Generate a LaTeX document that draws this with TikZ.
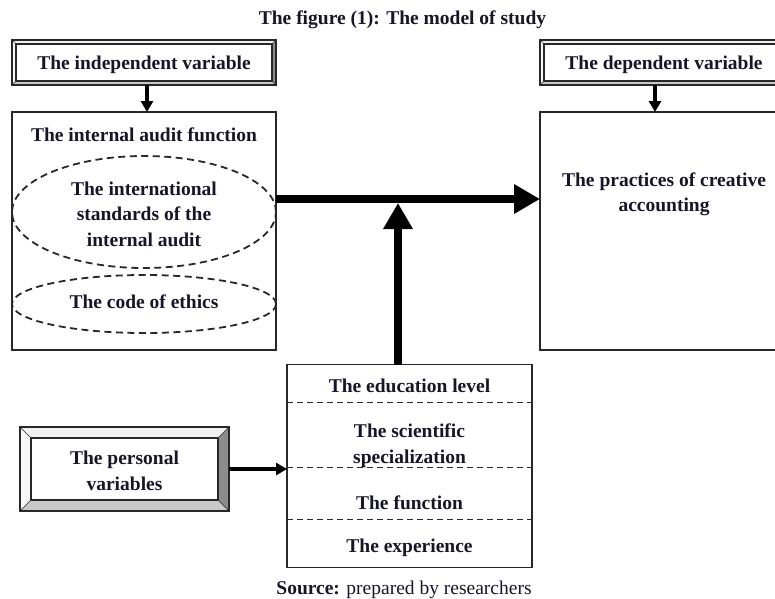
\documentclass[tikz,border=0pt]{standalone}
\usepackage{fontspec}
\setmainfont{Liberation Serif}
\usetikzlibrary{arrows.meta,shapes.geometric}

\definecolor{ink}{RGB}{22,22,40}
\definecolor{frame}{RGB}{40,40,40}
\definecolor{bvtop}{RGB}{240,240,240}
\definecolor{bvleft}{RGB}{248,248,248}
\definecolor{bvright}{RGB}{140,140,140}
\definecolor{bvbottom}{RGB}{200,200,200}

% raised (bevelled) frame around a named node; #2 = bevel depth
\newcommand\bevelframe[2]{%
  \fill[bvtop] (#1.north west) -- (#1.north east) -- ([xshift=-#2,yshift=-#2]#1.north east) -- ([xshift=#2,yshift=-#2]#1.north west) -- cycle;
  \fill[bvleft] (#1.north west) -- ([xshift=#2,yshift=-#2]#1.north west) -- ([xshift=#2,yshift=#2]#1.south west) -- (#1.south west) -- cycle;
  \fill[bvright] (#1.north east) -- (#1.south east) -- ([xshift=-#2,yshift=#2]#1.south east) -- ([xshift=-#2,yshift=-#2]#1.north east) -- cycle;
  \fill[bvbottom] (#1.south west) -- ([xshift=#2,yshift=#2]#1.south west) -- ([xshift=-#2,yshift=#2]#1.south east) -- (#1.south east) -- cycle;
  \draw[bvline] (#1.north west) rectangle (#1.south east);
  \draw[bvline] ([xshift=#2,yshift=-#2]#1.north west) rectangle ([xshift=-#2,yshift=#2]#1.south east);
  \draw[bvline, line width=0.6pt] (#1.north west) -- ([xshift=#2,yshift=-#2]#1.north west)
    (#1.north east) -- ([xshift=-#2,yshift=-#2]#1.north east)
    (#1.south west) -- ([xshift=#2,yshift=#2]#1.south west)
    (#1.south east) -- ([xshift=-#2,yshift=#2]#1.south east);
}

\tikzset{
  x=1pt, y=-1pt,
  txt/.style={inner sep=0pt, outer sep=0pt, text=ink, align=center, yshift=-2pt,
    font=\fontsize{19.5}{25.5}\selectfont\bfseries},
  shell/.style={inner sep=0pt, outer sep=0pt, draw=none},
  bvline/.style={draw=frame, line width=1.4pt},
  plainbox/.style={draw=frame, line width=1.6pt, fill=white, inner sep=0pt, outer sep=0pt},
  dashell/.style={ellipse, draw=frame, line width=1.8pt, dash pattern=on 7pt off 4.5pt, inner sep=0pt, outer sep=0pt},
  sepline/.style={draw=frame, line width=1.7pt, dash pattern=on 6pt off 4pt},
  thinarrow/.style={draw=black, line width=3.2pt, -{Triangle[length=11pt,width=12pt]}},
  bigarrow/.style={draw=black, line width=8pt, -{Triangle[length=26pt,width=28pt]}},
}

\begin{document}
\begin{tikzpicture}
\useasboundingbox (0,0) rectangle (775,598);
\clip (0,0) rectangle (775,598);
\fill[white] (0,0) rectangle (775,598);

% caption
\node[txt] (title) at (402.5,18) {The figure (1): The model of study};

% variable headings
\node[shell, minimum width=264pt, minimum height=45pt] (indep) at (144,62.5) {};
\bevelframe{indep}{4pt}
\node[txt] (indeptxt) at (144,63) {The independent variable};

\node[shell, minimum width=248pt, minimum height=45pt] (dep) at (664,62.5) {};
\bevelframe{dep}{4pt}
\node[txt] (deptxt) at (664,63) {The dependent variable};

% independent variable block
\node[plainbox, minimum width=264pt, minimum height=238pt] (iaf) at (144,231) {};
\node[txt] (iaftxt) at (144,133) {The internal audit function};
\node[dashell, minimum width=264pt, minimum height=112pt] (ell1) at (144,212) {};
\node[txt] (ell1txt) at (144,212) {The international\\standards of the\\internal audit};
\node[dashell, minimum width=264pt, minimum height=58pt] (ell2) at (144,304) {};
\node[txt] (ell2txt) at (144,300) {The code of ethics};

% dependent variable block
\node[plainbox, minimum width=248pt, minimum height=238pt] (prac) at (664,231) {};
\node[txt] (practxt) at (664,192.5) {The practices of creative\\accounting};

% personal variables
\node[plainbox, minimum width=245pt, minimum height=203pt] (pvbox) at (409.5,466) {};
\draw[sepline] ([yshift=-38pt]pvbox.north west) -- ([yshift=-38pt]pvbox.north east);
\draw[sepline] ([yshift=-103pt]pvbox.north west) -- ([yshift=-103pt]pvbox.north east);
\draw[sepline] ([yshift=-155pt]pvbox.north west) -- ([yshift=-155pt]pvbox.north east);
\node[txt] (edu) at (409.5,384) {The education level};
\node[txt] (sci) at (409.5,443.5) {The scientific\\specialization};
\node[txt] (fun) at (409.5,501) {The function};
\node[txt] (exp) at (409.5,546) {The experience};

\node[shell, minimum width=209pt, minimum height=84pt] (pers) at (124.5,469) {};
\bevelframe{pers}{11pt}
\node[txt] (perstxt) at (124.5,469) {The personal\\variables};

% source note
\node[inner sep=0pt, text=ink, yshift=-2pt, font=\fontsize{19.5}{24}\selectfont] (src) at (404,588)
  {\textbf{Source:} prepared by researchers};

% connectors
\draw[thinarrow] ([xshift=3pt]indep.south) -- ([xshift=3pt]iaf.north);
\draw[thinarrow] ([xshift=-9pt]dep.south) -- ([xshift=-9pt]prac.north);
\draw[bigarrow] ([yshift=32pt]iaf.east) -- ([yshift=32pt]prac.west);
\draw[bigarrow] ([xshift=-11.5pt]pvbox.north) -- ([xshift=-11.5pt,yshift=28pt]iaf.east -| pvbox.north);
\draw[thinarrow] (pers.east) -- (pers.east -| pvbox.west);
\end{tikzpicture}
\end{document}
